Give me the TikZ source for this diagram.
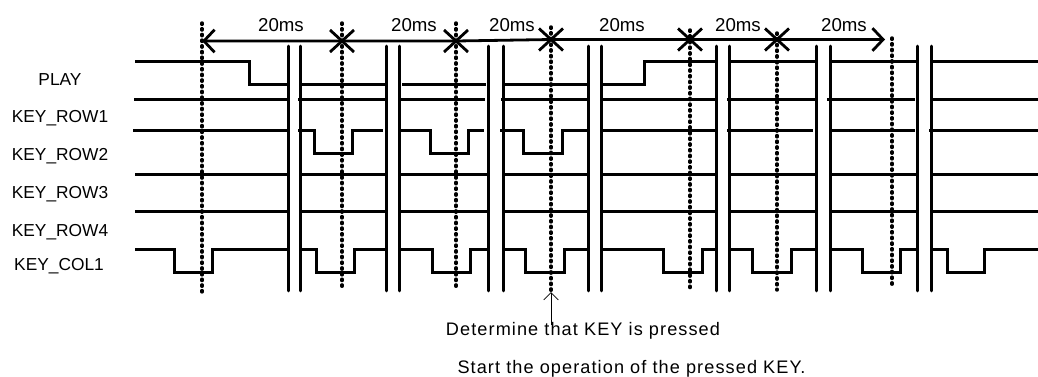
\documentclass[tikz,border=0pt]{standalone}
\usepackage{fontspec}
\setmainfont{Liberation Sans}
\newfontfamily\notefont[LetterSpace=6]{Liberation Sans}
\usetikzlibrary{arrows.meta}

\begin{document}
\begin{tikzpicture}[
  x=0.75pt, y=-0.75pt,
  % Signal levels
  wave/.style={draw, line width=1.7pt},
  % Clock breaks
  cut/.style={draw, line width=2.1pt, line cap=round},
  % Sampling instants
  sample/.style={draw, line width=2.6pt, line cap=round, dash pattern=on 1pt off 3.27pt},
  % Scan period arrow
  period/.style={draw, line width=2.1pt},
  crossmark/.style={draw, line width=2.1pt},
  siglabel/.style={font=\fontsize{13}{15}\selectfont, inner sep=0pt},
  timelabel/.style={font=\fontsize{14}{16}\selectfont, inner sep=0pt},
  notelabel/.style={font=\fontsize{13.6}{16}\notefont, inner sep=0pt},
]
  \useasboundingbox (0,0) rectangle (1038,376);

  % === Signal names ===
  \node[siglabel] (play) at (60,80) {PLAY};
  \node[siglabel] (row1) at (60,118) {KEY\_ROW1};
  \node[siglabel] (row2) at (60,156) {KEY\_ROW2};
  \node[siglabel] (row3) at (60,194) {KEY\_ROW3};
  \node[siglabel] (row4) at (60,232) {KEY\_ROW4};
  \node[siglabel] (col1) at (59,266) {KEY\_COL1};

  % === Period labels ===
  \foreach \x [count=\i] in {281,414,512,622,738,844}
    \node[timelabel] (time\i) at (\x,25) {20ms};

  % === PLAY ===
  \draw[wave] (135,61.5) -- (249.5,61.5) -- (249.5,84.5) -- (288,84.5);
  \foreach \a/\b in {302/386,402/486,502/588}
    \draw[wave] (\a,84.5) -- (\b,84.5);
  \draw[wave] (603,84.5) -- (644.5,84.5) -- (644.5,61.5) -- (716,61.5);
  \foreach \a/\b in {731/816,831/917,932/1038}
    \draw[wave] (\a,61.5) -- (\b,61.5);

  % === Flat rows ===
  \foreach \a/\b in {134/288,298/386,398/485,501/588,601/716,727/815,827/915,930/1038}
    \draw[wave] (\a,99.5) -- (\b,99.5);
  \foreach \a/\b in {135/289,301/388,400/488,503/589,602/718,731/816,831/918,932/1038}
    \draw[wave] (\a,174.5) -- (\b,174.5);
  \foreach \a/\b in {135/288,301/387,400/487,503/588,602/716,730/816,831/918,932/1038}
    \draw[wave] (\a,211.5) -- (\b,211.5);

  % === KEY_ROW line with pulses ===
  \draw[wave] (133,130.5) -- (288,130.5);
  \foreach \a/\d/\u/\b in {298/314.5/352.5/383,398/430.5/468.5/484,500/523.5/562.5/588}
    \draw[wave] (\a,130.5) -- (\d,130.5) -- (\d,153.5) -- (\u,153.5) -- (\u,130.5) -- (\b,130.5);
  \foreach \a/\b in {603/716,727/813,831/915,929/1038}
    \draw[wave] (\a,130.5) -- (\b,130.5);

  % === KEY_COL1 ===
  \foreach \a/\d/\u/\b in {135/174.5/212.5/288,302/316.5/354.5/386,400/432.5/470.5/487,503/525.5/564.5/588,603/663.5/702.5/716,731/752.5/791.5/816,831/862.5/900.5/917,932/947.5/984.5/1038}
    \draw[wave] (\a,249.5) -- (\d,249.5) -- (\d,272.5) -- (\u,272.5) -- (\u,249.5) -- (\b,249.5);

  % === Breaks ===
  \foreach \x in {288.5,300.5,386.5,399.5,488.5,503.5,588.5,601.5,716.5,729.5,816.5,830.5,917.5,931.5}
    \draw[cut] (\x,46) -- (\x,291);

  % === Sampling instants ===
  \foreach \x/\t/\b in {202/23/295,342/23/289,456/23/287,551/27/291,690/30/288,777/33/290,892/38/285}
    \draw[sample] (\x,\t) -- (\x,\b);

  % === Period arrow ===
  \coordinate (tick0) at (202,41);
  \coordinate (tick1) at (342,41);
  \coordinate (tick2) at (456,41);
  \coordinate (tick3) at (551,39.5);
  \coordinate (tick4) at (690,39.5);
  \coordinate (tick5) at (777,39.5);
  \coordinate (tick6) at (885,39.5);
  \draw[period, {Straight Barb[length=8pt, width=17pt]}-{Straight Barb[length=8pt, width=17pt]}]
    (tick0) -- (tick1) -- (tick2) -- (tick3) -- (tick4) -- (tick5) -- (tick6);
  \foreach \m in {1,...,5}
    \draw[crossmark] ([shift={(-12,-11)}]tick\m) -- ([shift={(12,11)}]tick\m)
      ([shift={(-12,11)}]tick\m) -- ([shift={(12,-11)}]tick\m);

  % === Notes ===
  \node[notelabel] (determine) at (583,331) {Determine that KEY is pressed};
  \node[notelabel] (start) at (631.5,369) {Start the operation of the pressed KEY.};
  \coordinate (notefoot) at (551,325);
  \coordinate (notehead) at (551,292);
  \draw[line width=0.6pt, -{Straight Barb[length=5.5pt, width=11pt]}] (notefoot) -- (notehead);
\end{tikzpicture}
\end{document}
